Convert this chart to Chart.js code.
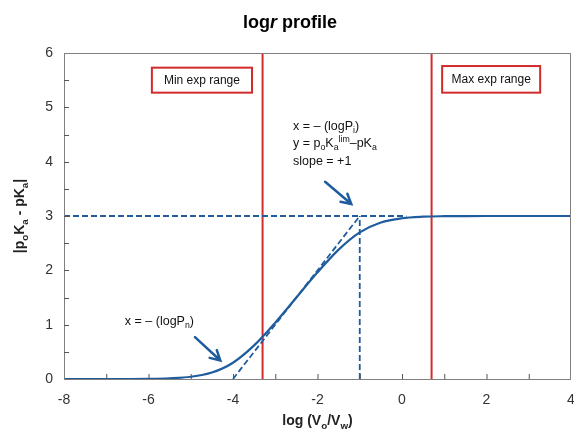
<!DOCTYPE html>
<html>
<head>
<meta charset="utf-8">
<script src="https://cdn.jsdelivr.net/npm/chart.js@4"></script>
<style>
  html, body { margin: 0; padding: 0; background: #fff; }
  #wrap { width: 574px; height: 435px; }
</style>
</head>
<body>
<div id="wrap"><canvas id="myChart"></canvas></div>
<script>
// curve
const curveX = [-8, -7, -6, -5.5, -5, -4.5, -4, -3.5, -3, -2.5, -2, -1.5, -1, -0.5, 0, 0.5, 1, 1.5, 2, 3, 4];
const curveY = [0, 0, 0.004, 0.014, 0.041, 0.119, 0.3, 0.618, 1.037, 1.5, 1.963, 2.382, 2.699, 2.881, 2.959, 2.987, 2.996, 2.999, 3, 3, 3];

const minRange = -3.3;
const maxRange = 0.7;
const plateau = 3;
const xLogPi = -1;
const xLogPn = -4;
const plateauEnd = 0.1;

const xTicks = [-8, -6, -4, -2, 0, 2, 4];
const yTicks = [0, 1, 2, 3, 4, 5, 6];

const blue = "#1f5c9e";
const red = "#d22b2b";
const font = "'Liberation Sans', Arial, sans-serif";

const ctx = document.getElementById("myChart");

function pts(xs, ys) {
  return xs.map((x, i) => ({ x: x, y: ys[i] }));
}

// draw text with sub/superscripts
function richWidth(c, segs, size, weight) {
  let w = 0;
  segs.forEach((s) => {
    const sz = s.sub || s.sup ? size * 0.7 : size;
    c.font = (s.italic ? "italic " : "") + weight + " " + sz + "px " + font;
    w += c.measureText(s.t).width;
  });
  return w;
}
function drawRich(c, segs, x, y, size, weight, align) {
  let w = richWidth(c, segs, size, weight);
  let cx = align === "center" ? x - w / 2 : x;
  c.textAlign = "left";
  c.textBaseline = "alphabetic";
  segs.forEach((s) => {
    const sz = s.sub || s.sup ? size * 0.7 : size;
    c.font = (s.italic ? "italic " : "") + weight + " " + sz + "px " + font;
    let dy = s.sub ? size * 0.25 : s.sup ? -size * 0.4 : 0;
    c.fillText(s.t, cx, y + dy);
    cx += c.measureText(s.t).width;
  });
}

function arrow(c, x1, y1, x2, y2) {
  const a = Math.atan2(y2 - y1, x2 - x1);
  const h = 11;
  c.save();
  c.strokeStyle = blue;
  c.lineWidth = 2.5;
  c.lineCap = "round";
  c.beginPath();
  c.moveTo(x1, y1);
  c.lineTo(x2, y2);
  c.moveTo(x2 - h * Math.cos(a - 0.5), y2 - h * Math.sin(a - 0.5));
  c.lineTo(x2, y2);
  c.lineTo(x2 - h * Math.cos(a + 0.5), y2 - h * Math.sin(a + 0.5));
  c.stroke();
  c.restore();
}

const decor = {
  id: "decor",
  afterDraw(chart) {
    const c = chart.ctx;
    const xs = chart.scales.x;
    const ys = chart.scales.y;
    const a = chart.chartArea;
    const X = (v) => xs.getPixelForValue(v);
    const Y = (v) => ys.getPixelForValue(v);

    // frame
    c.save();
    c.strokeStyle = "#808080";
    c.lineWidth = 1;
    c.strokeRect(a.left + 0.5, a.top + 0.5, a.right - a.left - 1, a.bottom - a.top);

    // inside tick marks
    c.strokeStyle = "#555";
    c.beginPath();
    for (let v = -7; v <= 3; v++) {
      c.moveTo(X(v) + 0.5, a.bottom);
      c.lineTo(X(v) + 0.5, a.bottom - 5);
    }
    for (let v = 0.5; v < 6; v += 0.5) {
      c.moveTo(a.left, Math.round(Y(v)) + 0.5);
      c.lineTo(a.left + 5, Math.round(Y(v)) + 0.5);
    }
    c.stroke();

    // title
    c.fillStyle = "#000";
    drawRich(c, [{ t: "log" }, { t: "r", italic: true }, { t: " profile" }], chart.width / 2 + 3, 28, 18, "bold", "center");

    // axis titles
    c.fillStyle = "#222";
    drawRich(c, [{ t: "log (V" }, { t: "o", sub: true }, { t: "/V" }, { t: "w", sub: true }, { t: ")" }],
      (a.left + a.right) / 2, 425, 14, "bold", "center");
    c.save();
    c.translate(24, (a.top + a.bottom) / 2);
    c.rotate(-Math.PI / 2);
    drawRich(c, [{ t: "|p" }, { t: "o", sub: true }, { t: "K" }, { t: "a", sub: true }, { t: " - pK" }, { t: "a", sub: true }, { t: "|" }],
      0, 0, 14, "bold", "center");
    c.restore();

    // range boxes
    const boxes = [
      { x0: -5.92, x1: -3.55, y0: 5.73, y1: 5.27, label: "Min exp range" },
      { x0: 0.95, x1: 3.27, y0: 5.76, y1: 5.27, label: "Max exp range" },
    ];
    boxes.forEach((b) => {
      c.fillStyle = "#fff";
      c.fillRect(X(b.x0), Y(b.y0), X(b.x1) - X(b.x0), Y(b.y1) - Y(b.y0));
      c.strokeStyle = red;
      c.lineWidth = 2;
      c.strokeRect(X(b.x0), Y(b.y0), X(b.x1) - X(b.x0), Y(b.y1) - Y(b.y0));
      c.fillStyle = "#111";
      drawRich(c, [{ t: b.label }], (X(b.x0) + X(b.x1)) / 2, (Y(b.y0) + Y(b.y1)) / 2 + 4, 12, "normal", "center");
    });

    // annotations
    c.fillStyle = "#111";
    drawRich(c, [{ t: "x = \u2013 (logP" }, { t: "i", sub: true }, { t: ")" }], X(-2.58), Y(4.59), 12.5, "normal", "left");
    drawRich(c, [{ t: "y = p" }, { t: "o", sub: true }, { t: "K" }, { t: "a", sub: true }, { t: "lim", sup: true }, { t: "\u2013pK" }, { t: "a", sub: true }],
      X(-2.58), Y(4.27), 12.5, "normal", "left");
    drawRich(c, [{ t: "slope = +1" }], X(-2.58), Y(3.94), 12.5, "normal", "left");
    drawRich(c, [{ t: "x = \u2013 (logP" }, { t: "n", sub: true }, { t: ")" }], X(-6.56), Y(0.99), 12.5, "normal", "left");

    arrow(c, X(-1.82), Y(3.63), X(-1.2), Y(3.22));
    arrow(c, X(-4.9), Y(0.77), X(-4.3), Y(0.34));
    c.restore();
  },
};

new Chart(ctx, {
  type: "scatter",
  data: {
    datasets: [
      {
        data: [{ x: -8, y: plateau }, { x: plateauEnd, y: plateau }],
        showLine: true, borderColor: blue, borderWidth: 1.8, borderDash: [6, 3], pointRadius: 0,
      },
      {
        data: [{ x: xLogPi, y: 0 }, { x: xLogPi, y: plateau }],
        showLine: true, borderColor: blue, borderWidth: 1.8, borderDash: [6, 3], pointRadius: 0,
      },
      {
        data: [{ x: xLogPn, y: 0 }, { x: xLogPi, y: plateau }],
        showLine: true, borderColor: blue, borderWidth: 1.8, borderDash: [6, 3], pointRadius: 0,
      },
      {
        data: pts(curveX, curveY),
        showLine: true, borderColor: blue, borderWidth: 2.2, pointRadius: 0,
        cubicInterpolationMode: "monotone",
      },
      {
        data: [{ x: minRange, y: 0 }, { x: minRange, y: 6 }],
        showLine: true, borderColor: red, borderWidth: 2, pointRadius: 0,
      },
      {
        data: [{ x: maxRange, y: 0 }, { x: maxRange, y: 6 }],
        showLine: true, borderColor: red, borderWidth: 2, pointRadius: 0,
      },
    ],
  },
  options: {
    responsive: true,
    maintainAspectRatio: false,
    animation: false,
    layout: { padding: { top: 53, right: 3, left: 0, bottom: 0 } },
    plugins: { legend: { display: false }, tooltip: { enabled: false } },
    scales: {
      x: {
        type: "linear", min: -8, max: 4,
        afterFit: (s) => { s.height = 56; s.paddingRight = 0; s.paddingLeft = 0; },
        afterBuildTicks: (s) => { s.ticks = xTicks.map((v) => ({ value: v })); },
        grid: { display: false },
        border: { display: false },
        ticks: { color: "#333", font: { family: font, size: 14 }, padding: 5 },
      },
      y: {
        type: "linear", min: 0, max: 6,
        afterFit: (s) => { s.width = 64; },
        afterBuildTicks: (s) => { s.ticks = yTicks.map((v) => ({ value: v })); },
        grid: { display: false, drawTicks: false },
        border: { display: false },
        ticks: { color: "#333", font: { family: font, size: 14 }, padding: 11 },
      },
    },
  },
  plugins: [decor],
});
</script>
</body>
</html>
